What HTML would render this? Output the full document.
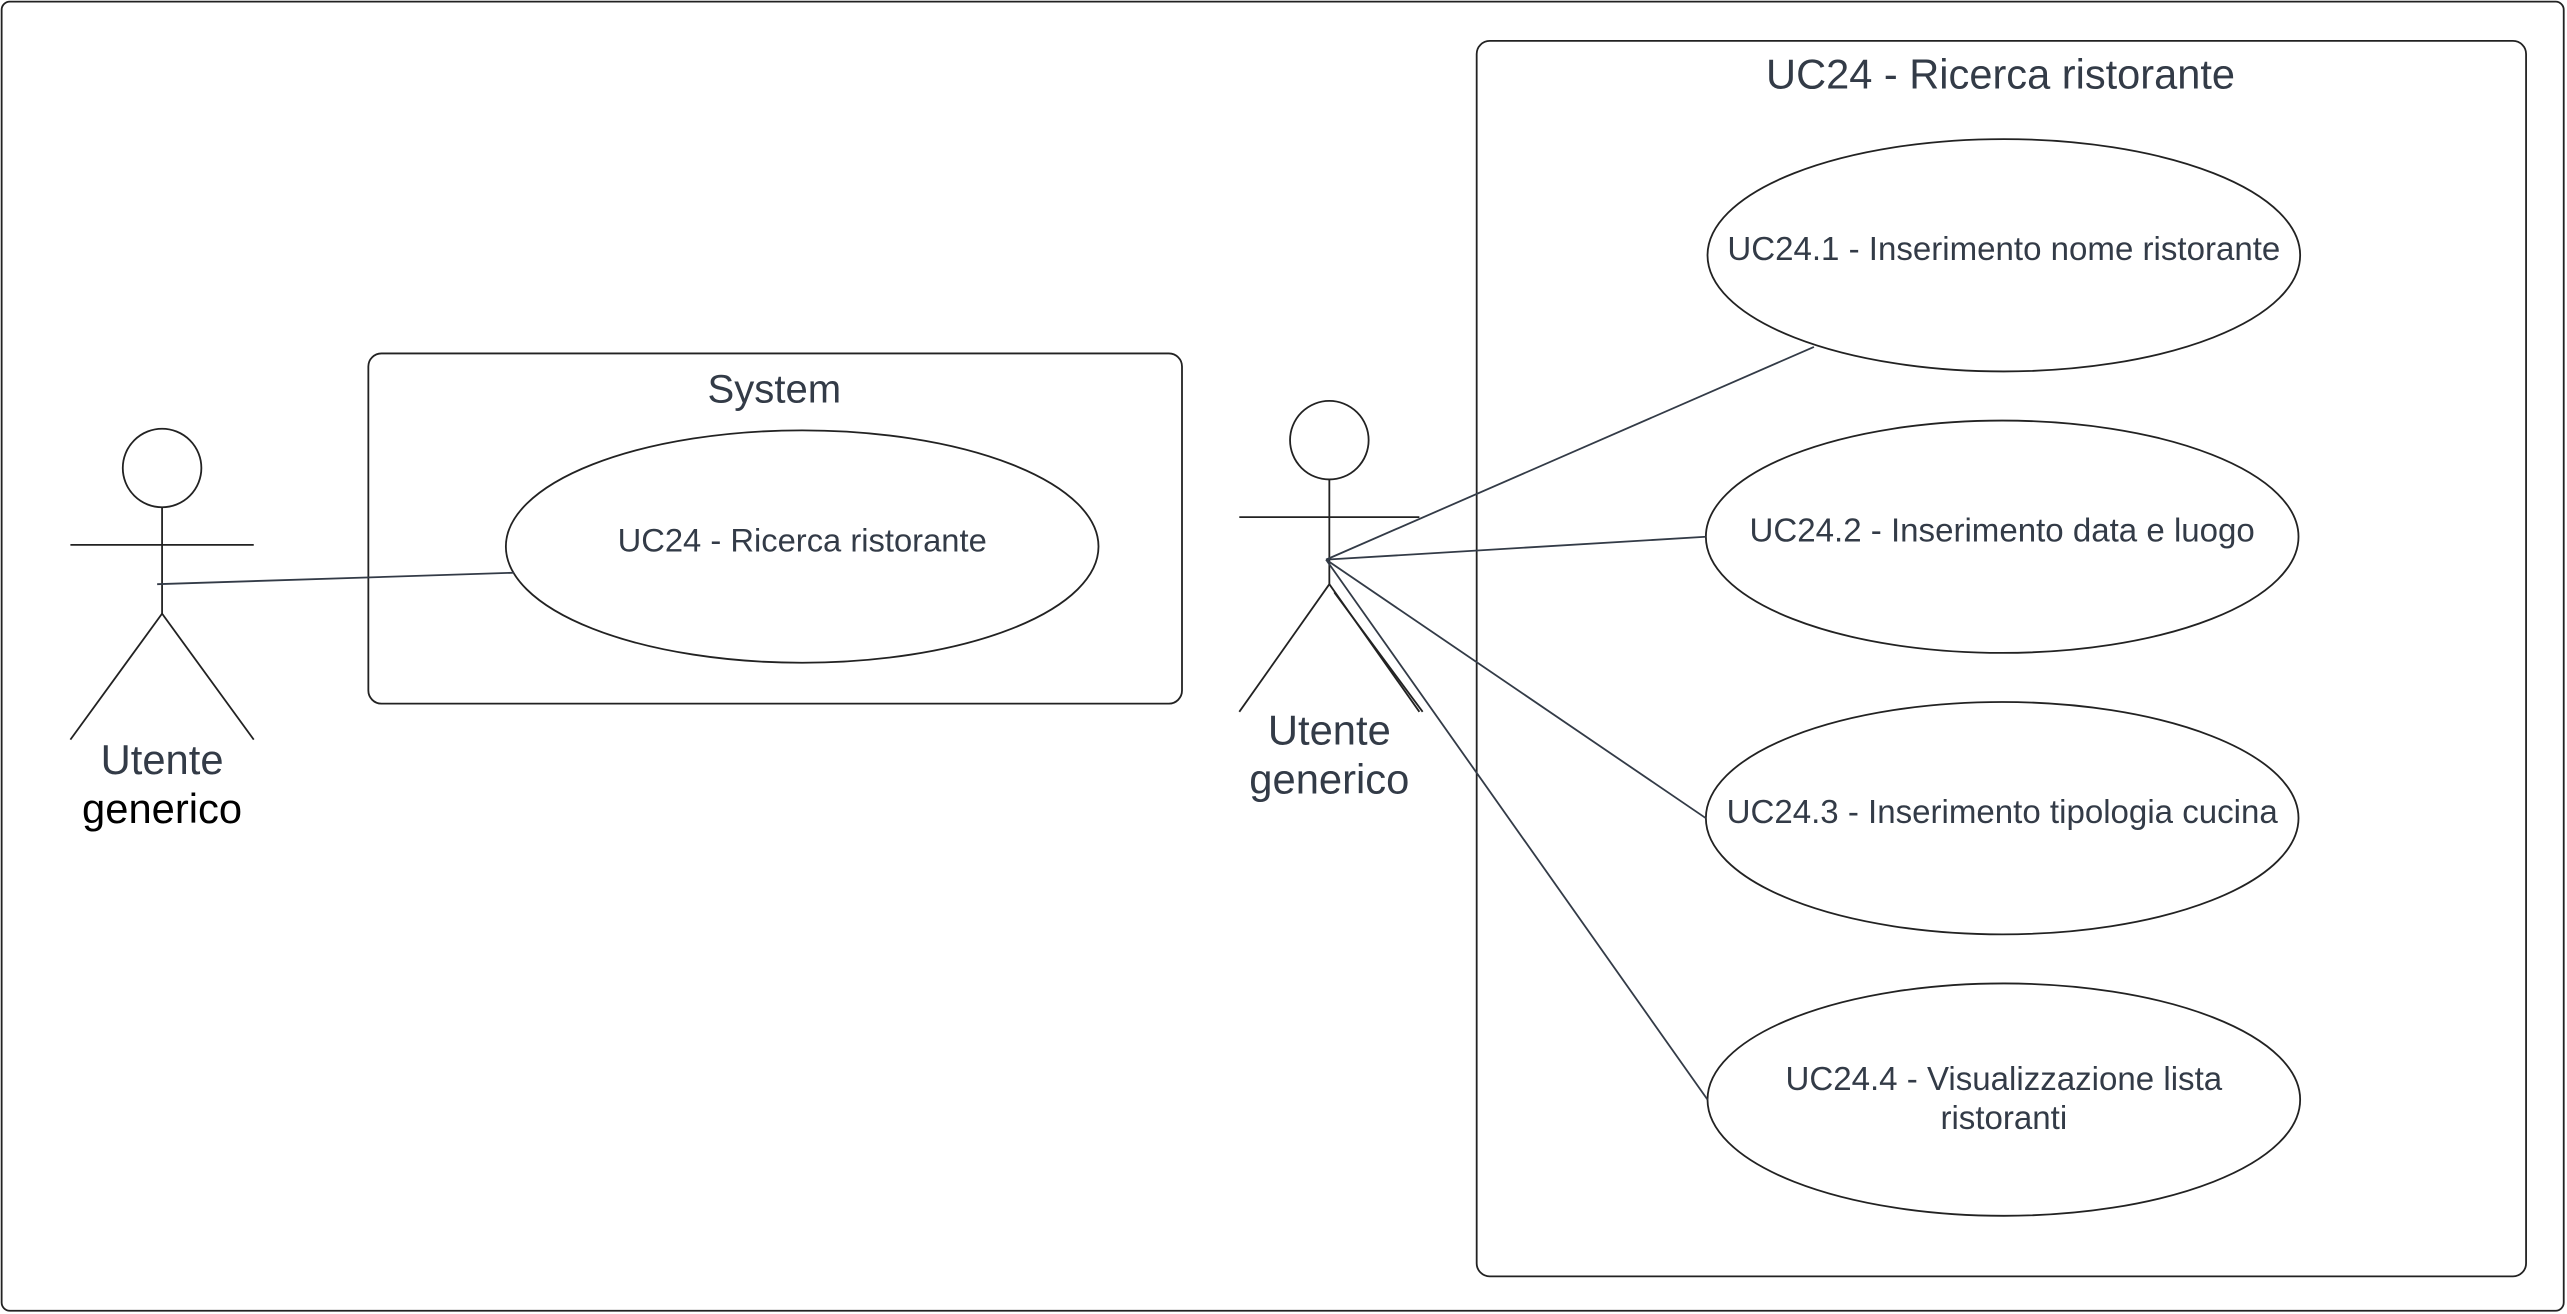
<!DOCTYPE html>
<html><head><meta charset="utf-8"><style>
html,body{margin:0;padding:0;background:#fff;}
svg{display:block;}
text{font-family:"Liberation Sans",sans-serif;fill:#333b47;text-anchor:middle;}
</style></head><body>
<svg width="2567" height="1314" viewBox="0 0 1568 803" preserveAspectRatio="none" xmlns="http://www.w3.org/2000/svg">
<g fill="none" stroke="#222" stroke-width="1.1">
<rect x="1" y="1" width="1565" height="800" rx="5"/>
<rect x="225" y="216" width="497" height="214" rx="8"/>
<ellipse cx="490" cy="334" rx="181" ry="71"/>
<rect x="902" y="25" width="641" height="755" rx="8"/>
<ellipse cx="1224" cy="156" rx="181" ry="71"/>
<ellipse cx="1223" cy="328" rx="181" ry="71"/>
<ellipse cx="1223" cy="500" rx="181" ry="71"/>
<ellipse cx="1224" cy="672" rx="181" ry="71"/>
<circle cx="99" cy="286" r="24"/>
<line x1="99" y1="310" x2="99" y2="375"/>
<line x1="43" y1="333" x2="155" y2="333"/>
<line x1="99" y1="375" x2="43" y2="452"/>
<line x1="99" y1="375" x2="155" y2="452"/>
<circle cx="812" cy="269" r="24"/>
<line x1="812" y1="293" x2="812" y2="357"/>
<line x1="757" y1="316" x2="867" y2="316"/>
<line x1="812" y1="357" x2="757" y2="435"/>
<line x1="812" y1="357" x2="867" y2="435"/>
<line x1="815" y1="362" x2="869" y2="435"/>
</g>
<g stroke="#333b47" stroke-width="1.1" fill="none">
<line x1="96" y1="357" x2="314" y2="350"/>
<line x1="810" y1="342" x2="1108" y2="212"/>
<line x1="810" y1="342" x2="1042" y2="328"/>
<line x1="810" y1="342" x2="1042" y2="500"/>
<line x1="810" y1="342" x2="1043" y2="672"/>
</g>
<text x="473" y="246" font-size="24.5">System</text>
<text x="490" y="337" font-size="20">UC24 - Ricerca ristorante</text>
<text x="1222" y="54" font-size="25.4">UC24 - Ricerca ristorante</text>
<text x="1224" y="159" font-size="20.2">UC24.1 - Inserimento nome ristorante</text>
<text x="1223" y="331" font-size="20.2">UC24.2 - Inserimento data e luogo</text>
<text x="1223" y="503" font-size="20.2">UC24.3 - Inserimento tipologia cucina</text>
<text x="1224" y="666" font-size="20.2">UC24.4 - Visualizzazione lista</text>
<text x="1224" y="690" font-size="20.2">ristoranti</text>
<text x="99" y="473" font-size="25.5">Utente</text>
<text x="99" y="503" font-size="25.5" style="fill:#000">generico</text>
<text x="812" y="455" font-size="25.5">Utente</text>
<text x="812" y="485" font-size="25.5">generico</text>
</svg>
</body></html>
